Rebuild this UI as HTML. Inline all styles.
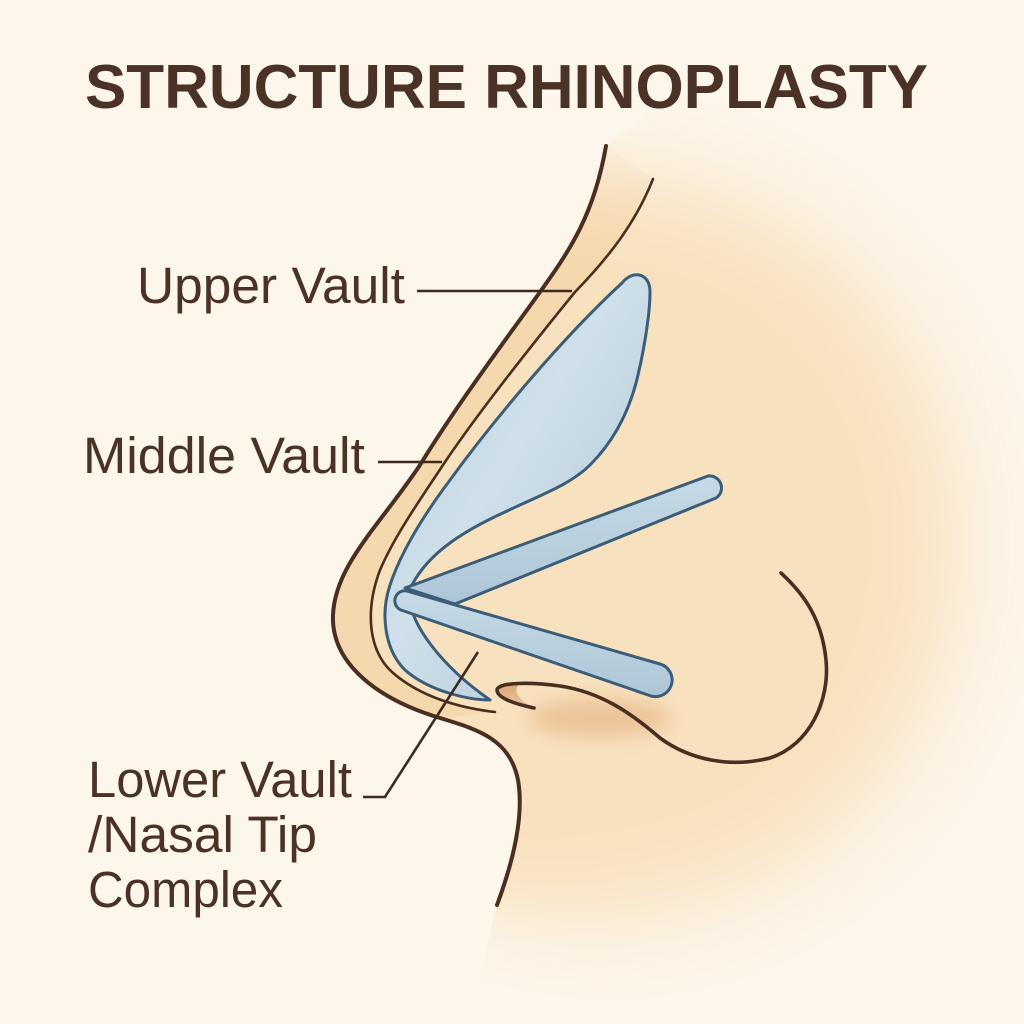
<!DOCTYPE html>
<html>
<head>
<meta charset="utf-8">
<style>
  html,body{margin:0;padding:0;background:#fdf6eb;}
  svg{display:block;}
  text{font-family:"Liberation Sans", Arial, sans-serif; fill:#4a3227;}
</style>
</head>
<body>
<svg width="1024" height="1024" viewBox="0 0 1024 1024" xmlns="http://www.w3.org/2000/svg">
  <defs>
    <filter id="bigBlur" x="-50%" y="-50%" width="200%" height="200%">
      <feGaussianBlur stdDeviation="45"/>
    </filter>
    <filter id="midBlur" x="-50%" y="-50%" width="200%" height="200%">
      <feGaussianBlur stdDeviation="9"/>
    </filter>
    <mask id="skinMask" maskUnits="userSpaceOnUse" x="0" y="0" width="1024" height="1024">
      <rect x="0" y="0" width="1024" height="1024" fill="black"/>
      <ellipse cx="610" cy="545" rx="350" ry="370" fill="white" filter="url(#bigBlur)"/>
      <rect x="300" y="195" width="300" height="680" fill="white" filter="url(#bigBlur)"/>
    </mask>
    <linearGradient id="blueG" x1="0" y1="0" x2="1" y2="1">
      <stop offset="0" stop-color="#b3cadb"/>
      <stop offset="0.45" stop-color="#cfe0ea"/>
      <stop offset="1" stop-color="#a8c1d3"/>
    </linearGradient>
    <linearGradient id="rodG" x1="0" y1="0" x2="0" y2="1">
      <stop offset="0" stop-color="#c6dae6"/>
      <stop offset="1" stop-color="#adc6d7"/>
    </linearGradient>
    <linearGradient id="nostG" x1="0" y1="0" x2="0" y2="1">
      <stop offset="0" stop-color="#d9a474"/>
      <stop offset="1" stop-color="#eec7a0"/>
    </linearGradient>
  </defs>

  <rect width="1024" height="1024" fill="#fdf6eb"/>

  <!-- Skin -->
  <g mask="url(#skinMask)">
    <path d="M606,146 C594,215 570,250 540,292 C510,334 460,400 420,465 C380,525 335,565 333,615 C331,665 380,700 440,718 C480,730 510,740 518,780 C525,820 510,870 497,905 L470,1024 L1024,1024 L1024,60 L720,60 Z" fill="#f8e1be"/>
    <path d="M606,146 C594,215 570,250 540,292 C510,334 460,400 420,465 C380,525 335,565 333,615 C331,665 380,700 440,718 L495,712 C460,708 420,697 392,672 C368,650 365,610 380,570 C395,535 420,500 445,462 C480,410 540,335 575,292 C610,256 636,222 653,179 Z" fill="#f5d8ae"/>
  </g>

  <!-- nostril shadow -->
  <ellipse cx="600" cy="718" rx="72" ry="20" fill="#e2a878" opacity="0.5" filter="url(#midBlur)"/>

  <!-- outer skin line -->
  <path d="M606,146 C594,215 570,250 540,292 C510,334 460,400 420,465 C380,525 335,565 333,615 C331,665 380,700 440,718 C480,730 510,740 518,780 C525,820 510,870 497,905" fill="none" stroke="#4a2e20" stroke-width="4" stroke-linecap="round"/>
  <!-- inner skin line -->
  <path d="M653,179 C636,222 610,256 575,292 C540,335 480,410 445,462 C420,500 395,535 380,570 C365,610 368,650 392,672 C420,697 460,708 495,712" fill="none" stroke="#4a2e20" stroke-width="2.6" stroke-linecap="round"/>

  <!-- big cartilage shape -->
  <path d="M622,283 C632,270 650,272 650,292 C650,312 645,345 638,375 C630,410 615,440 590,465 C570,485 540,495 505,512 C470,528 430,550 412,585 L410,600 C412,625 440,665 490,700 C470,700 430,692 405,670 C385,650 380,615 390,585 C400,555 420,520 450,480 C490,425 560,340 622,283 Z" fill="url(#blueG)" stroke="#3b5d78" stroke-width="3" stroke-linejoin="round"/>

  <!-- upper strut -->
  <path d="M405,588 L708,476 A12,12 0 0 1 716,498 L455,604 Z" fill="url(#rodG)" stroke="#3b5d78" stroke-width="3" stroke-linejoin="round"/>
  <!-- lower strut -->
  <path d="M407,591 L660,664 A16,16 0 0 1 651,696 L401,610 A10,10 0 0 1 407,591 Z" fill="url(#rodG)" stroke="#3b5d78" stroke-width="3" stroke-linejoin="round"/>

  <!-- nostril -->
  <path d="M534,708 C515,704 498,699 497,691 C497,685 508,683 520,684 C512,690 518,700 534,708 Z" fill="url(#nostG)"/>
  <path d="M534,708 C515,704 497,698 497,690 C498,682 530,682 560,686 C600,692 630,712 660,738 C690,760 730,768 770,758 C810,745 830,700 826,660 C822,620 805,595 781,573" fill="none" stroke="#4a2e20" stroke-width="3.6" stroke-linecap="round"/>

  <!-- leader lines -->
  <g stroke="#3d2a20" stroke-width="2.6" fill="none" stroke-linecap="butt">
    <line x1="417" y1="291" x2="572" y2="291"/>
    <line x1="378" y1="462" x2="442" y2="462"/>
    <polyline points="363,797 385,797 478,652"/>
  </g>

  <!-- title -->
  <text x="85" y="108" font-size="62" font-weight="bold" textLength="843" lengthAdjust="spacing">STRUCTURE RHINOPLASTY</text>

  <!-- labels -->
  <text x="137" y="303" font-size="51" textLength="268" lengthAdjust="spacingAndGlyphs">Upper Vault</text>
  <text x="83" y="473" font-size="51" textLength="282" lengthAdjust="spacingAndGlyphs">Middle Vault</text>
  <text x="88" y="797" font-size="51" textLength="264" lengthAdjust="spacingAndGlyphs">Lower Vault</text>
  <text x="88" y="852" font-size="51" textLength="229" lengthAdjust="spacingAndGlyphs">/Nasal Tip</text>
  <text x="88" y="907" font-size="51" textLength="195" lengthAdjust="spacingAndGlyphs">Complex</text>
</svg>
</body>
</html>
